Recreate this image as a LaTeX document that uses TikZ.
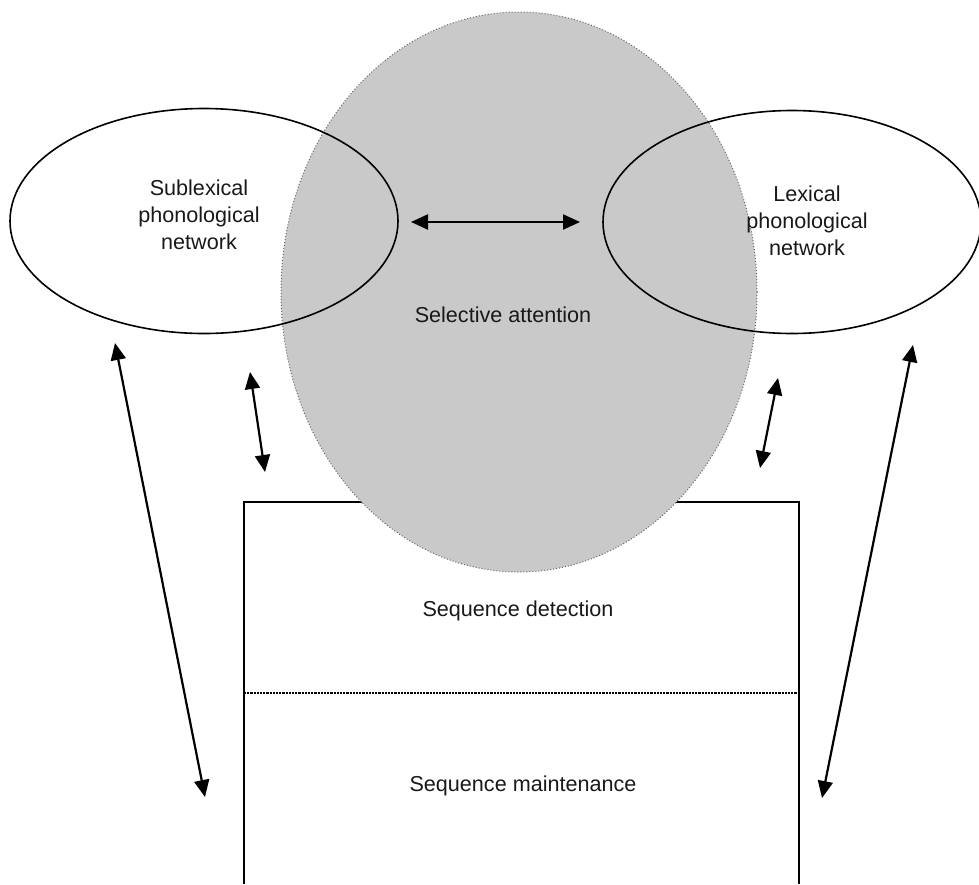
\documentclass[tikz,border=0pt]{standalone}
\usepackage{fontspec}
\setmainfont{Liberation Sans}
\usetikzlibrary{shapes.geometric,arrows.meta}

\begin{document}
\begin{tikzpicture}[x=1pt,y=-1pt,
  lbl/.style={font=\fontsize{21.6}{27}\selectfont, text=black!90, align=center, inner sep=0pt},
  netw/.style={draw=black, line width=1.6pt, ellipse, inner sep=0pt},
  attn/.style={ellipse, fill=black!21, draw=black!60, line width=1pt, dotted, inner sep=0pt},
  link/.style={line width=2.2pt, {Triangle[length=17pt,width=15pt]}-{Triangle[length=17pt,width=15pt]}},
  frame/.style={line width=2.2pt, draw=black}
]
\useasboundingbox (0,0) rectangle (979,884);

% sequence box, open at the bottom, with the dotted divider
\coordinate (bl) at (244,884);
\coordinate (tl) at (244,502);
\coordinate (tr) at (799,502);
\coordinate (br) at (799,884);
\draw[frame] (bl) -- (tl) -- (tr) -- (br);
\coordinate (dl) at (244,693);
\coordinate (dr) at (799,693);
\draw[line width=2.2pt, densely dotted] (dl) -- (dr);

% selective attention
\node[attn, minimum width=476pt, minimum height=560pt] (att) at (519,292) {};

% phonological networks
\node[netw, minimum width=388pt, minimum height=225pt] (sub) at (204,221) {};
\node[netw, minimum width=378pt, minimum height=223pt] (lex) at (792,222) {};

% labels
\node[lbl] (tsub) at (199,215) {Sublexical\\phonological\\network};
\node[lbl] (tlex) at (807,221) {Lexical\\phonological\\network};
\node[lbl] (tatt) at (503,315) {Selective attention};
\node[lbl] (tdet) at (518,611) {Sequence detection};
\node[lbl] (tmnt) at (523,786) {Sequence maintenance};

% arrow end points
\coordinate (h1) at (411,222);
\coordinate (h2) at (580,222);
\coordinate (la) at (115,343);
\coordinate (lb) at (205,797);
\coordinate (sa) at (250,372);
\coordinate (sb) at (265,472);
\coordinate (ra) at (778,378);
\coordinate (rb) at (760,468);
\coordinate (ma) at (913,345);
\coordinate (mb) at (822,798);

\draw[link] (h1) -- (h2);
\draw[link] (la) -- (lb);
\draw[link] (sa) -- (sb);
\draw[link] (ra) -- (rb);
\draw[link] (ma) -- (mb);
\end{tikzpicture}
\end{document}
